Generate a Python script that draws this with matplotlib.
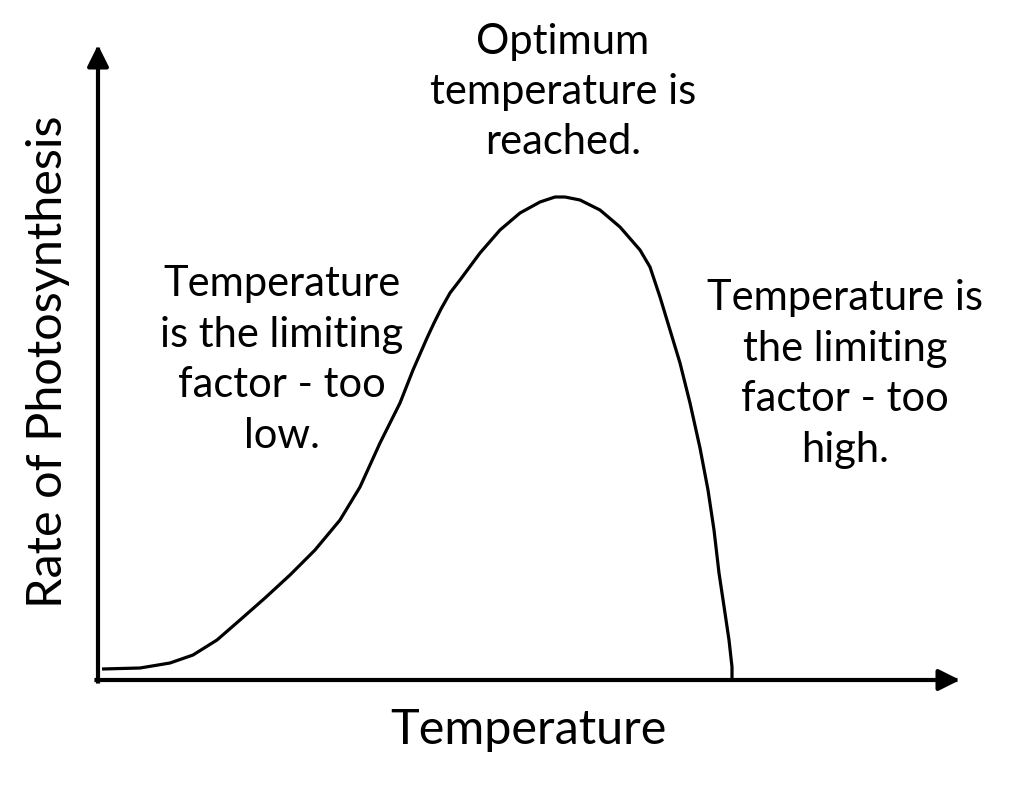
import matplotlib.pyplot as plt

plt.rcParams['font.family'] = ['Lato', 'DejaVu Sans']

# Curve (temperature, rate), arbitrary units
temperature = [4, 42, 72, 95, 119, 142, 167, 192, 217, 242, 262, 282, 302,
               315, 329, 336, 343, 352, 362, 382, 402, 422, 442, 457, 467,
               482, 502, 522, 542, 552, 562, 572, 582, 592, 602, 610, 616,
               621, 627, 631, 634, 634]
rate = [11, 12, 17, 25, 40, 60, 82, 105, 130, 160, 193, 237, 277,
        310, 342, 357, 371, 387, 400, 427, 450, 467, 478, 483, 483,
        480, 470, 453, 430, 413, 383, 350, 317, 277, 232, 190, 150,
        107, 67, 40, 13, 0]

x_label = 'Temperature'
y_label = 'Rate of Photosynthesis'
notes = ['Optimum\ntemperature is\nreached.',
         'Temperature\nis the limiting\nfactor - too\nlow.',
         'Temperature is\nthe limiting\nfactor - too\nhigh.']
note_pos = [(465, 588), (184, 320), (747, 306)]

fig = plt.figure(figsize=(10.24, 7.87), dpi=100)
ax = fig.add_axes([0, 0, 1, 1])
ax.set_xlim(-98, 926)
ax.set_ylim(-107, 680)
ax.axis('off')

# axes with arrow heads
arrow = dict(arrowstyle='-|>', lw=3, color='black', mutation_scale=32,
             shrinkA=0, shrinkB=0, capstyle='projecting')
ax.annotate('', xy=(0, 635), xytext=(0, -1.5), arrowprops=arrow)
ax.annotate('', xy=(862, 0), xytext=(-1.5, 0), arrowprops=arrow)

ax.plot(temperature, rate, color='black', lw=2.3, solid_joinstyle='round',
        solid_capstyle='butt')

for txt, (x, y) in zip(notes, note_pos):
    ax.text(x, y, txt, ha='center', va='center', fontsize=30, linespacing=1.4)

ax.text(430, -50, x_label, ha='center', va='center', fontsize=35)
ax.text(-50, 318, y_label, ha='center', va='center', fontsize=35, rotation=90)

fig.savefig('out.png', dpi=100)
